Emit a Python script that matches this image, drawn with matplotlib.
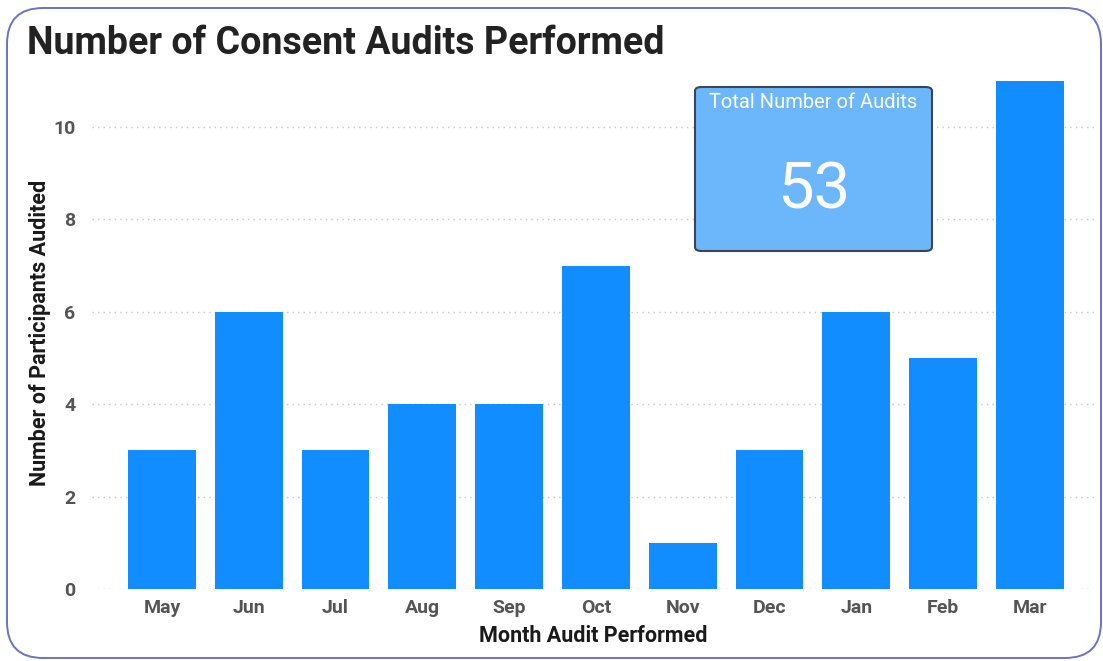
import matplotlib
matplotlib.use("Agg")
import matplotlib.pyplot as plt
from matplotlib.patches import FancyBboxPatch

# ── data ────────────────────────────────────────────────────────────────────
months = ["May", "Jun", "Jul", "Aug", "Sep", "Oct", "Nov", "Dec", "Jan", "Feb", "Mar"]
audits = [3, 6, 3, 4, 4, 7, 1, 3, 6, 5, 11]
y_ticks = [0, 2, 4, 6, 8, 10]

TITLE = "Number of Consent Audits Performed"
KPI_LABEL = "Total Number of Audits"

BAR_COLOR = "#118DFF"
TICK_COLOR = "#555555"
FONT = ["Roboto", "DejaVu Sans"]

plt.rcParams["font.family"] = FONT

fig = plt.figure(figsize=(11.03, 6.61), dpi=100)
fig.patch.set_facecolor("white")

# outer rounded card (in inches, so corners stay round)
card = FancyBboxPatch((0.07, 0.03), 10.94, 6.50,
                      boxstyle="round,pad=0,rounding_size=0.36",
                      transform=fig.dpi_scale_trans,
                      facecolor="white", edgecolor="#6a72c6", linewidth=1.4,
                      zorder=-5)
fig.patches.append(card)

ax = fig.add_axes([0.0834, 0.1089, 0.9093, 0.776])
ax.set_facecolor("none")

x = list(range(len(months)))
ax.bar(x, audits, width=0.78, color=BAR_COLOR, zorder=3)

ax.set_xlim(-0.806, 10.75)
ax.set_ylim(0, 11.1)
ax.set_yticks(y_ticks)
ax.set_xticks(x)
ax.set_xticklabels(months)
ax.yaxis.grid(True, linestyle=(0, (1, 3)), color="#c8c8c8", linewidth=1.0, zorder=0)
ax.set_axisbelow(True)
for sp in ax.spines.values():
    sp.set_visible(False)
ax.tick_params(axis="both", length=0, colors=TICK_COLOR, labelsize=14)
ax.tick_params(axis="x", pad=7)
ax.tick_params(axis="y", pad=12)
for lab in ax.get_xticklabels() + ax.get_yticklabels():
    lab.set_fontweight("bold")

ax.set_xlabel("Month Audit Performed", fontsize=15.5, fontweight="bold",
              color="#1a1a1a")
ax.set_ylabel("Number of Participants Audited", fontsize=15.5, fontweight="bold",
              color="#1a1a1a")
ax.xaxis.set_label_coords(0.5, -0.092)
ax.yaxis.set_label_coords(-0.052, 0.5)
ax.yaxis.label.set_va("center")
ax.xaxis.label.set_va("center")

fig.text(27 / 1103, 1 - 44 / 661, TITLE, fontsize=27, fontweight="bold",
         color="#222222", ha="left", va="center")

# KPI card
kx0, kx1, ky0, ky1 = 695, 932, 87, 251
kpi = FancyBboxPatch((kx0 / 1103, 1 - ky1 / 661), (kx1 - kx0) / 1103, (ky1 - ky0) / 661,
                     boxstyle="round,pad=0,rounding_size=0.006",
                     transform=fig.transFigure,
                     facecolor="#6cb6fc", edgecolor="#3d4650", linewidth=1.5,
                     zorder=5)
fig.patches.append(kpi)
fig.text((kx0 + kx1) / 2 / 1103, 1 - 102 / 661, KPI_LABEL, fontsize=14.5,
         color="white", ha="center", va="center", zorder=6)
fig.text((kx0 + kx1) / 2 / 1103, 1 - 191 / 661, str(sum(audits)), fontsize=47,
         color="white", ha="center", va="center", zorder=6)

fig.savefig("out.png", dpi=100, facecolor="white")
